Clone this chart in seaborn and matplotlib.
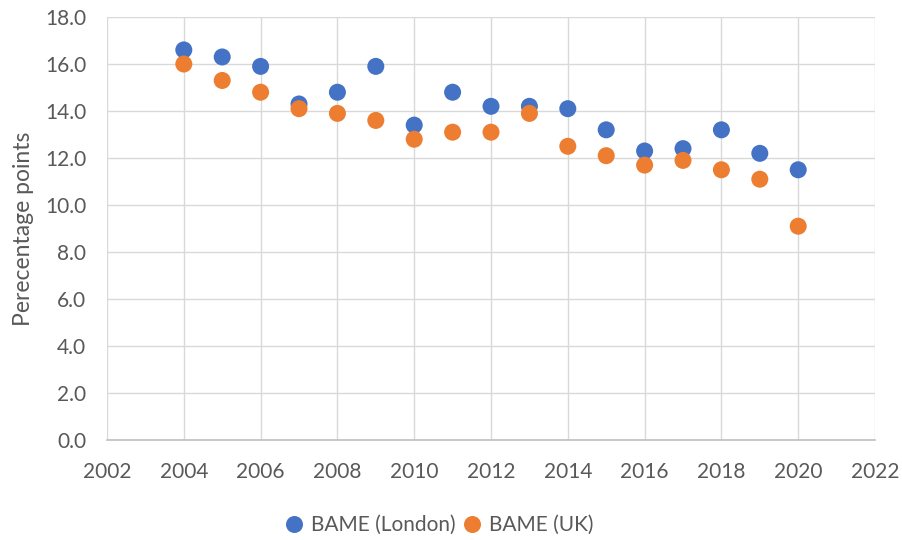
import matplotlib
matplotlib.use("Agg")
import matplotlib.pyplot as plt
import seaborn as sns
import pandas as pd

years = list(range(2004, 2021))
london = [16.6, 16.3, 15.9, 14.3, 14.8, 15.9, 13.4, 14.8, 14.2, 14.2, 14.1, 13.2, 12.3, 12.4, 13.2, 12.2, 11.5]
uk = [16.0, 15.3, 14.8, 14.1, 13.9, 13.6, 12.8, 13.1, 13.1, 13.9, 12.5, 12.1, 11.7, 11.9, 11.5, 11.1, 9.1]
series_names = ["BAME (London)", "BAME (UK)"]
colors = ["#4472C4", "#ED7D31"]

df = pd.DataFrame({
    "Year": years * 2,
    "Value": london + uk,
    "Series": [series_names[0]] * len(years) + [series_names[1]] * len(years),
})

sns.set_theme(style="white")
plt.rcParams['font.family'] = ['Lato', 'DejaVu Sans']

fig = plt.figure(figsize=(9.03, 5.4), dpi=100)
ax = fig.add_axes([0.1185, 0.185, 0.8505, 0.7835])

sns.scatterplot(data=df, x="Year", y="Value", hue="Series", palette=colors,
                s=150, edgecolor="none", ax=ax, zorder=3)

ax.set_xlim(2002, 2022)
ax.set_ylim(0, 18)
ax.set_xticks(range(2002, 2023, 2))
ax.set_yticks([i * 2 for i in range(10)])
ax.set_yticklabels([f"{i*2:.1f}" for i in range(10)])
ax.grid(True, color="#D9D9D9", linewidth=1)
ax.set_axisbelow(True)
for s in ["top", "right", "left"]:
    ax.spines[s].set_visible(False)
ax.spines["bottom"].set_color("#BFBFBF")
ax.spines["bottom"].set_linewidth(1.2)
ax.tick_params(axis="x", length=0, labelsize=15, colors="#595959", pad=16)
ax.tick_params(axis="y", length=0, labelsize=15, colors="#595959", pad=15)
ax.set_xlabel("")
ax.set_ylabel("Perecentage points", fontsize=16.5, color="#595959", labelpad=8)

handles, labels = ax.get_legend_handles_labels()
ax.get_legend().remove()
leg = fig.legend(handles, labels, loc="center", bbox_to_anchor=(0.487, 0.028), ncol=2, frameon=False,
                 fontsize=15, handlelength=0.8, handletextpad=0.4, columnspacing=0.4, markerscale=1.0)
for t in leg.get_texts():
    t.set_color("#595959")

fig.savefig("out.png", dpi=100)
